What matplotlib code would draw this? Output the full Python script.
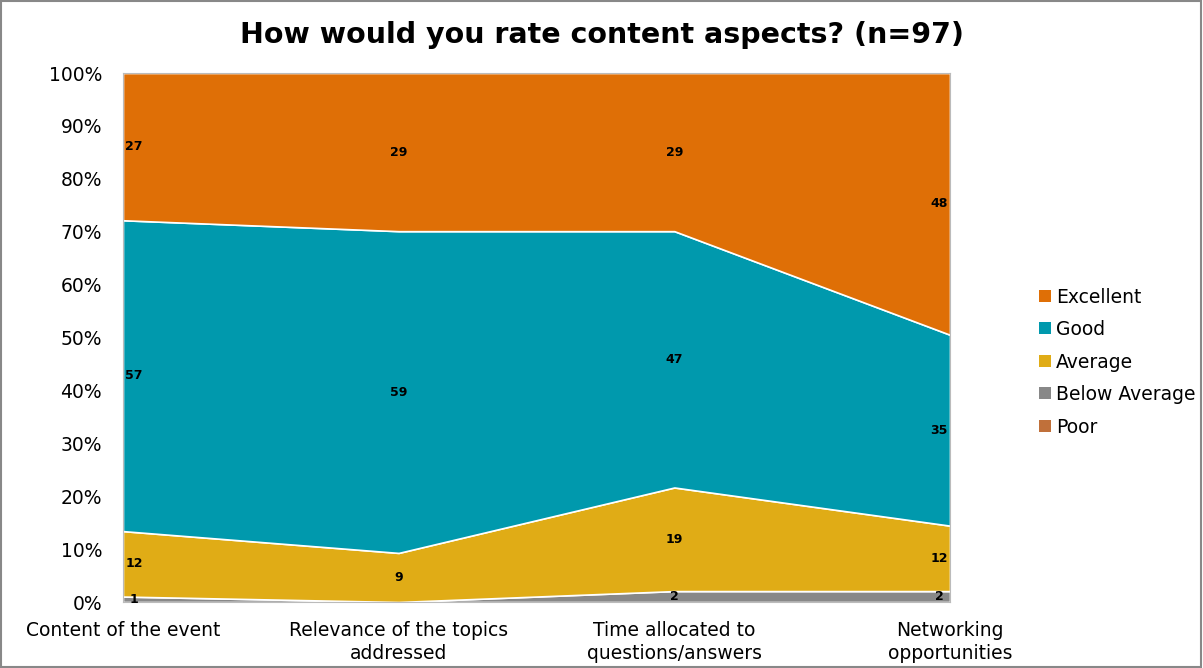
import matplotlib
matplotlib.use("Agg")
from matplotlib import pyplot as plt
from matplotlib.patches import Rectangle, Patch
import numpy as np

categories = ["Content of the event", "Relevance of the topics\naddressed",
              "Time allocated to\nquestions/answers", "Networking\nopportunities"]
poor = [0, 0, 0, 0]
below_average = [1, 0, 2, 2]
average = [12, 9, 19, 12]
good = [57, 59, 47, 35]
excellent = [27, 29, 29, 48]

series_names = ["Poor", "Below Average", "Average", "Good", "Excellent"]
series_colors = ["#C0703A", "#888888", "#E0AC16", "#0099AD", "#DF6F06"]

plt.rcParams['font.family'] = ['DejaVu Sans']

data = np.array([poor, below_average, average, good, excellent], dtype=float)
pct = data / data.sum(axis=0) * 100
x = np.arange(len(categories))

fig = plt.figure(figsize=(12.03, 6.68), dpi=100)
ax = fig.add_axes([0.1022, 0.0988, 0.6875, 0.7919])

ax.stackplot(x, pct, colors=series_colors, edgecolor="white", linewidth=1.2)

# data labels in the middle of each band
cum = np.cumsum(pct, axis=0)
offs = [0.04, 0, 0, -0.04]
for i in range(len(series_names)):
    for j in range(len(categories)):
        if data[i, j] == 0:
            continue
        mid = cum[i, j] - pct[i, j] / 2
        ax.text(x[j] + offs[j], mid, "%d" % data[i, j], ha="center", va="center",
                fontsize=9, fontweight="bold", color="black")

ax.set_xlim(0, len(categories) - 1)
ax.set_ylim(0, 100)
ax.set_yticks(np.arange(0, 101, 10))
ax.set_yticklabels(["%d%%" % v for v in range(0, 101, 10)], fontsize=13.5)
ax.set_xticks(x)
ax.set_xticklabels(categories, fontsize=13.5, linespacing=1.25)
ax.tick_params(length=0)
ax.tick_params(axis="x", pad=14)
ax.tick_params(axis="y", pad=15)
for s in ax.spines.values():
    s.set_color("#BBBBBB")

fig.suptitle("How would you rate content aspects? (n=97)", fontsize=20.5,
             fontweight="bold", y=0.968)

handles = [Patch(facecolor=series_colors[i]) for i in range(len(series_names))][::-1]
labels = series_names[::-1]
fig.legend(handles, labels, loc="center left", bbox_to_anchor=(0.850, 0.458),
           frameon=False, fontsize=13.5, handlelength=0.6, handleheight=0.6,
           handletextpad=0.3, labelspacing=0.72)

fig.add_artist(Rectangle((0.001, 0.001), 0.997, 0.997, transform=fig.transFigure,
                         fill=False, edgecolor="#888888", linewidth=1.5))

plt.savefig("out.png", dpi=100)
